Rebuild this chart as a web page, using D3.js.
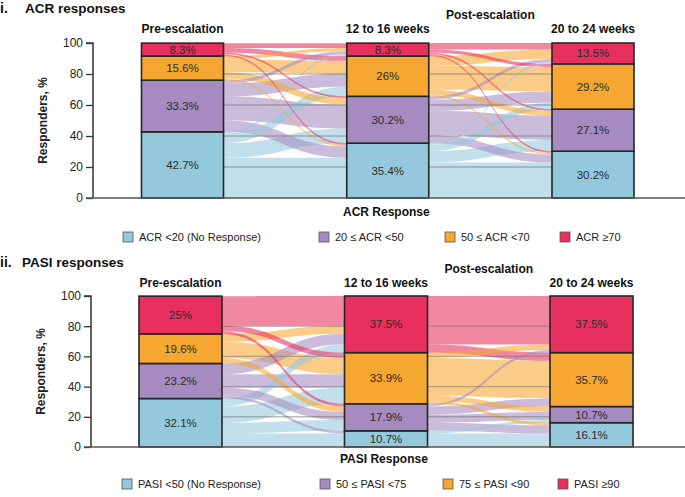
<!DOCTYPE html>
<html><head><meta charset="utf-8">
<script src="https://cdn.jsdelivr.net/npm/d3@7"></script>
<style>body{margin:0;background:#fff}svg{display:block;font-family:"Liberation Sans",Arial,sans-serif}</style>
</head><body><svg id="c" width="685" height="497"></svg>
<script>
// ---------- data ----------
const timepoints = ["Pre-escalation", "12 to 16 weeks", "20 to 24 weeks"];
const yTicks = [0, 20, 40, 60, 80, 100];
const gridValues = [20, 40, 60, 80];

const acrCategories = ["ACR <20 (No Response)", "20 \u2264 ACR <50", "50 \u2264 ACR <70", "ACR \u226570"];
const acrPre = [42.7, 33.3, 15.6, 8.3];
const acrW12 = [35.4, 30.2, 26, 8.3];
const acrW20 = [30.2, 27.1, 29.2, 13.5];
const acrLabelsPre = ["42.7%", "33.3%", "15.6%", "8.3%"];
const acrLabelsW12 = ["35.4%", "30.2%", "26%", "8.3%"];
const acrLabelsW20 = ["30.2%", "27.1%", "29.2%", "13.5%"];
// transition counts [from][to] (patients)
const acrFlowPreToW12 = [[25, 9, 6, 1], [7, 15, 8, 2], [1, 4, 8, 2], [1, 1, 3, 3]];
const acrFlowW12ToW20 = [[22, 7, 4, 1], [5, 15, 7, 2], [1, 3, 15, 6], [1, 1, 2, 4]];

const pasiCategories = ["PASI <50 (No Response)", "50 \u2264 PASI <75", "75 \u2264 PASI <90", "PASI \u226590"];
const pasiPre = [32.1, 23.2, 19.6, 25];
const pasiW12 = [10.7, 17.9, 33.9, 37.5];
const pasiW20 = [16.1, 10.7, 35.7, 37.5];
const pasiLabelsPre = ["32.1%", "23.2%", "19.6%", "25%"];
const pasiLabelsW12 = ["10.7%", "17.9%", "33.9%", "37.5%"];
const pasiLabelsW20 = ["16.1%", "10.7%", "35.7%", "37.5%"];
const pasiFlowPreToW12 = [[5, 4, 6, 3], [1, 3, 5, 4], [0, 2, 6, 3], [0, 1, 2, 11]];
const pasiFlowW12ToW20 = [[5, 1, 0, 0], [3, 3, 3, 1], [1, 2, 14, 2], [0, 0, 3, 18]];

const catColors = ["#94c9dd", "#a68bc1", "#f6a731", "#e8305f"];

// ---------- drawing ----------
const svg = d3.select("#c");

function drawPanel(p) {
  const g = svg.append("g");
  const y = d3.scaleLinear().domain([0, 100]).range([p.yBot, p.yTop]);
  const x = d3.scalePoint().domain(timepoints).range(p.centers);
  const bw = p.barW;
  const values = p.values;

  const stacks = values.map(v => {
    let acc = 0; return v.map(d => { const s = [acc, acc + d]; acc += d; return s; });
  });

  p.flows.forEach((M, t) => {
    const srcStack = stacks[t], tgtStack = stacks[t + 1];
    const xs = x(timepoints[t]) + bw / 2, xt = x(timepoints[t + 1]) - bw / 2;
    const xm = (xs + xt) / 2;
    const rowSum = M.map(r => d3.sum(r));
    const colSum = M[0].map((_, j) => d3.sum(M, r => r[j]));
    const srcPos = M.map((r, i) => { let a = srcStack[i][0]; return r.map(f => { const h = rowSum[i] ? f / rowSum[i] * values[t][i] : 0; const s = [a, a + h]; a += h; return s; }); });
    const tgtPos = M.map(r => r.map(() => null));
    M[0].forEach((_, j) => { let a = tgtStack[j][0]; M.forEach((r, i) => { const h = colSum[j] ? r[j] / colSum[j] * values[t + 1][j] : 0; tgtPos[i][j] = [a, a + h]; a += h; }); });
    const bands = [];
    M.forEach((r, i) => r.forEach((f, j) => { if (f > 0) bands.push({ i, j, f, s: srcPos[i][j], e: tgtPos[i][j] }); }));
    bands.sort((a, b) => b.f - a.f);
    g.append("g").selectAll("path").data(bands).join("path")
      .attr("d", b => {
        const s1 = y(b.s[1]), s0 = y(b.s[0]), e1 = y(b.e[1]), e0 = y(b.e[0]);
        return `M${xs},${s1}C${xm},${s1} ${xm},${e1} ${xt},${e1}L${xt},${e0}C${xm},${e0} ${xm},${s0} ${xs},${s0}Z`;
      })
      .attr("fill", b => catColors[b.i]).attr("fill-opacity", 0.58);
    g.append("g").selectAll("line").data(gridValues).join("line")
      .attr("x1", xs).attr("x2", xt).attr("y1", d => y(d)).attr("y2", d => y(d))
      .attr("stroke", "#6b6b6b").attr("stroke-opacity", 0.45).attr("stroke-width", 1.4);
  });

  stacks.forEach((st, t) => {
    const bg = g.append("g");
    bg.selectAll("rect").data(st).join("rect")
      .attr("x", x(timepoints[t]) - bw / 2).attr("width", bw)
      .attr("y", d => y(d[1])).attr("height", d => y(d[0]) - y(d[1]))
      .attr("fill", (d, i) => catColors[i]).attr("stroke", "#262626").attr("stroke-width", 1.6);
    bg.selectAll("text").data(st).join("text")
      .attr("x", x(timepoints[t])).attr("y", d => (y(d[0]) + y(d[1])) / 2 + 4)
      .attr("text-anchor", "middle").attr("font-size", 11.5).attr("fill", "#2a2a2a")
      .text((d, i) => p.labels[t][i]);
  });

  const ax = g.append("g").attr("transform", `translate(${p.axisX},0)`)
    .call(d3.axisLeft(y).tickValues(yTicks).tickSize(7).tickPadding(3));
  ax.select(".domain").attr("stroke", "#333").attr("stroke-width", 1.5).attr("d", `M-7,${p.yTop}H0V${p.yBot}`);
  ax.selectAll(".tick line").attr("stroke", "#333").attr("stroke-width", 1.3);
  ax.selectAll(".tick text").attr("font-size", 12).attr("fill", "#222").attr("font-family", "Liberation Sans, Arial, sans-serif");
  g.append("line").attr("x1", p.axisX - 7).attr("x2", 685).attr("y1", p.yBot).attr("y2", p.yBot)
    .attr("stroke", "#555").attr("stroke-width", 1.5);

  g.append("text").attr("transform", `translate(${p.axisX - 46},${(p.yTop + p.yBot) / 2}) rotate(-90)`)
    .attr("text-anchor", "middle").attr("font-size", 12).attr("font-weight", "bold").attr("fill", "#222")
    .text("Responders, %");

  g.append("text").attr("x", 0).attr("y", p.titleY).attr("font-size", 14).attr("font-weight", "bold").attr("fill", "#111").text(p.num);
  g.append("text").attr("x", p.titleX).attr("y", p.titleY).attr("font-size", 13.5).attr("font-weight", "bold").attr("fill", "#111").text(p.title);
  timepoints.forEach(tp => {
    g.append("text").attr("x", x(tp)).attr("y", p.headY).attr("text-anchor", "middle")
      .attr("font-size", 12).attr("font-weight", "bold").attr("fill", "#111").text(tp);
  });
  g.append("text").attr("x", (x(timepoints[1]) + x(timepoints[2])) / 2).attr("y", p.postY).attr("text-anchor", "middle")
    .attr("font-size", 12).attr("font-weight", "bold").attr("fill", "#111").text("Post-escalation");
  g.append("text").attr("x", p.xTitleX).attr("y", p.xTitleY)
    .attr("font-size", 12).attr("font-weight", "bold").attr("fill", "#111").text(p.xTitle);

  const lg = g.append("g").selectAll("g").data(p.categories).join("g")
    .attr("transform", (d, i) => `translate(${p.legendX[i]},${p.legendY})`);
  lg.append("rect").attr("x", 0).attr("y", -5).attr("width", 10).attr("height", 10)
    .attr("fill", (d, i) => catColors[i]).attr("stroke", "#555").attr("stroke-width", 0.8);
  lg.append("text").attr("x", 16).attr("y", 4).attr("font-size", 11).attr("fill", "#222").text(d => d);
}

drawPanel({
  num: "i.", title: "ACR responses", titleX: 25, titleY: 13,
  values: [acrPre, acrW12, acrW20], labels: [acrLabelsPre, acrLabelsW12, acrLabelsW20],
  flows: [acrFlowPreToW12, acrFlowW12ToW20], categories: acrCategories,
  axisX: 93, yTop: 43, yBot: 198, centers: [182.5, 593], barW: 82,
  headY: 33, postY: 19, xTitle: "ACR Response", xTitleX: 343, xTitleY: 216,
  legendX: [123, 319, 445, 560], legendY: 237
});
drawPanel({
  num: "ii.", title: "PASI responses", titleX: 22, titleY: 267,
  values: [pasiPre, pasiW12, pasiW20], labels: [pasiLabelsPre, pasiLabelsW12, pasiLabelsW20],
  flows: [pasiFlowPreToW12, pasiFlowW12ToW20], categories: pasiCategories,
  axisX: 91, yTop: 296, yBot: 447, centers: [180.5, 591.5], barW: 83,
  headY: 287, postY: 273, xTitle: "PASI Response", xTitleX: 340, xTitleY: 463,
  legendX: [122, 320, 443, 558], legendY: 484
});
</script></body></html>
